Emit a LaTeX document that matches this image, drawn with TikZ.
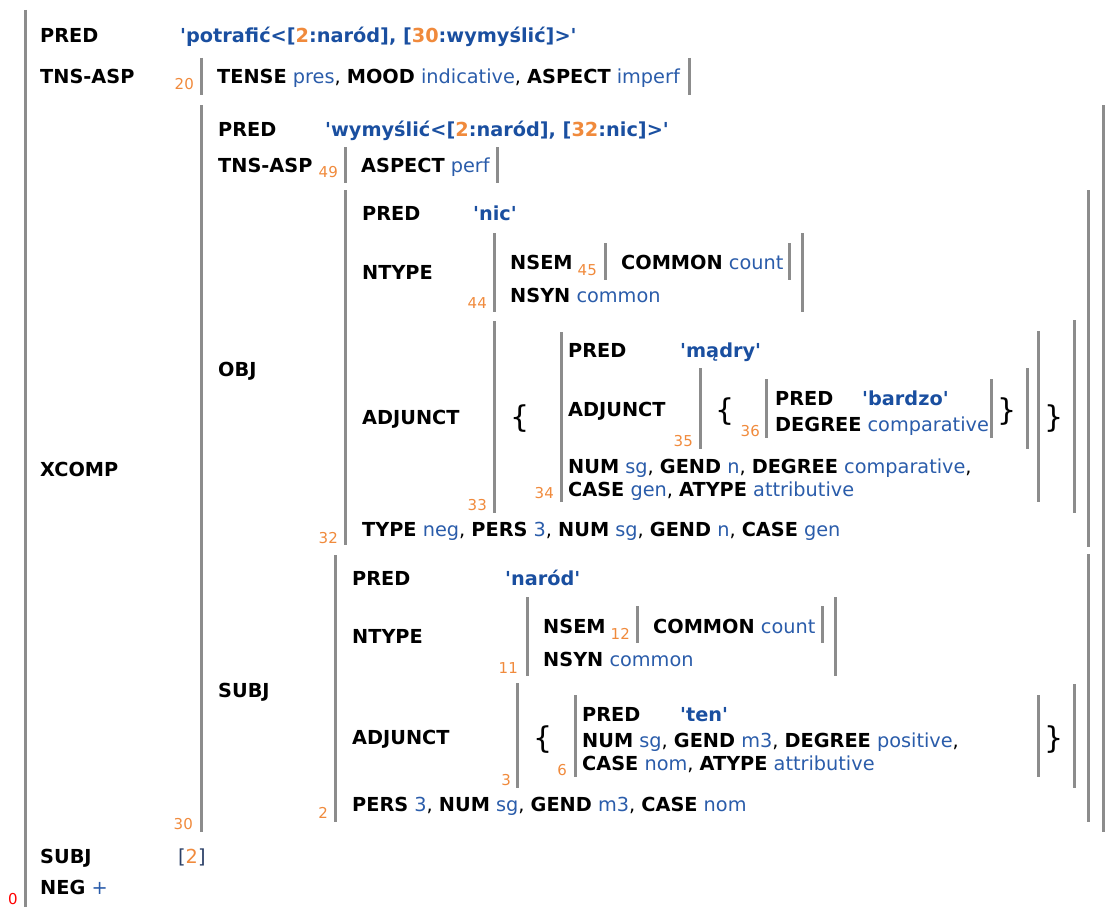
\documentclass[tikz,border=0pt]{standalone}
\usepackage{fontspec}
\setmainfont{DejaVu Sans}
\definecolor{valc}{HTML}{2A5CAA}
\definecolor{predc}{HTML}{1A4FA0}
\definecolor{numc}{HTML}{F08A3C}
\definecolor{barc}{HTML}{8C8C8C}
\definecolor{brkc}{HTML}{2A3F66}
\newcommand\At[1]{\textbf{#1}}
\newcommand\Va[1]{\textcolor{valc}{#1}}
\newcommand\Pv[1]{\textcolor{predc}{\textbf{\textquotesingle#1\textquotesingle}}}
\newcommand\Nm[1]{\textcolor{numc}{#1}}
\tikzset{
  txt/.style={anchor=base west, inner sep=0pt, font=\fontsize{19.3}{22}\selectfont},
  idx/.style={anchor=base east, inner sep=0pt, text=numc, font=\fontsize{15}{16}\selectfont},
  brace/.style={anchor=center, inner sep=0pt, font=\fontsize{30}{32}\selectfont},
  bar/.style={draw=barc, line width=3pt},
}
\begin{document}
\begin{tikzpicture}[x=1pt,y=-1pt]
\useasboundingbox (0,0) rectangle (1113,907);
% ---------- outer f-structure 0
\draw[bar] (25,10) -- (25,907);
\node[idx, text=red, anchor=base] (n0) at (13,904) {0};
\node[txt] (p0) at (40,43) {\At{PRED}};
\node[txt] (p0v) at (180,43) {\Pv{potrafić<[\Nm{2}:naród], [\Nm{30}:wymyślić]>}};
\node[txt] (t0) at (40,84) {\At{TNS-ASP}};
\node[idx] (n20) at (194,89) {20};
\draw[bar] (201,58) -- (201,95);
\node[txt] (t20) at (217,84) {\At{TENSE} \Va{pres}, \At{MOOD} \Va{indicative}, \At{ASPECT} \Va{imperf}};
\draw[bar] (689,58) -- (689,95);
\node[txt] (x0) at (40,476) {\At{XCOMP}};
\node[txt] (s0) at (40,863) {\At{SUBJ}};
\node[txt] (s0v) at (178,863) {\textcolor{brkc}{[}\Nm{2}\textcolor{brkc}{]}};
\node[txt] (neg) at (40,894) {\At{NEG} \Va{+}};
% ---------- XCOMP 30
\draw[bar] (201,105) -- (201,832);
\draw[bar] (1103,105) -- (1103,832);
\node[idx] (n30) at (193,829) {30};
\node[txt] (p30) at (218,136) {\At{PRED}};
\node[txt] (p30v) at (325,136) {\Pv{wymyślić<[\Nm{2}:naród], [\Nm{32}:nic]>}};
\node[txt] (t30) at (218,172) {\At{TNS-ASP}};
\node[idx] (n49) at (338,177) {49};
\draw[bar] (345,147) -- (345,183);
\node[txt] (t49) at (361,172) {\At{ASPECT} \Va{perf}};
\draw[bar] (497,147) -- (497,183);
\node[txt] (o30) at (218,376) {\At{OBJ}};
\node[txt] (s30) at (218,697) {\At{SUBJ}};
% ---------- OBJ 32
\draw[bar] (345,190) -- (345,545);
\draw[bar] (1088,190) -- (1088,547);
\node[idx] (n32) at (338,543) {32};
\node[txt] (p32) at (362,220) {\At{PRED}};
\node[txt] (p32v) at (473,220) {\Pv{nic}};
\node[txt] (nt32) at (362,279) {\At{NTYPE}};
\node[txt] (a32) at (362,424) {\At{ADJUNCT}};
\node[txt] (r32) at (362,536) {\At{TYPE} \Va{neg}, \At{PERS} \Va{3}, \At{NUM} \Va{sg}, \At{GEND} \Va{n}, \At{CASE} \Va{gen}};
% NTYPE 44
\draw[bar] (494,233) -- (494,312);
\draw[bar] (802,233) -- (802,312);
\node[idx] (n44) at (487,308) {44};
\node[txt] (ns44) at (510,269) {\At{NSEM}};
\node[idx] (n45) at (597,275) {45};
\draw[bar] (605,243) -- (605,280);
\node[txt] (c45) at (621,269) {\At{COMMON} \Va{count}};
\draw[bar] (789,243) -- (789,280);
\node[txt] (sy44) at (510,302) {\At{NSYN} \Va{common}};
% ADJUNCT 33
\draw[bar] (494,321) -- (494,513);
\draw[bar] (1074,320) -- (1074,513);
\node[idx] (n33) at (487,510) {33};
\node[brace] (lb33) at (520,419) {\{};
\node[brace] (rb33) at (1054,419) {\}};
% 34
\draw[bar] (561,332) -- (561,502);
\draw[bar] (1038,331) -- (1038,502);
\node[idx] (n34) at (554,498) {34};
\node[txt] (p34) at (568,357) {\At{PRED}};
\node[txt] (p34v) at (680,357) {\Pv{mądry}};
\node[txt] (a34) at (568,416) {\At{ADJUNCT}};
\node[txt] (r34a) at (568,473) {\At{NUM} \Va{sg}, \At{GEND} \Va{n}, \At{DEGREE} \Va{comparative},};
\node[txt] (r34b) at (568,496) {\At{CASE} \Va{gen}, \At{ATYPE} \Va{attributive}};
% 35
\draw[bar] (700,368) -- (700,449);
\draw[bar] (1027,368) -- (1027,449);
\node[idx] (n35) at (693,446) {35};
\node[brace] (lb35) at (725,412) {\{};
\node[brace] (rb35) at (1007,412) {\}};
% 36
\draw[bar] (766,379) -- (766,438);
\draw[bar] (991,379) -- (991,438);
\node[idx] (n36) at (760,436) {36};
\node[txt] (p36) at (775,405) {\At{PRED}};
\node[txt] (p36v) at (862,405) {\Pv{bardzo}};
\node[txt] (d36) at (775,431) {\At{DEGREE} \Va{comparative}};
% ---------- SUBJ 2
\draw[bar] (335,555) -- (335,822);
\draw[bar] (1088,554) -- (1088,822);
\node[idx] (n2) at (328,818) {2};
\node[txt] (p2) at (352,585) {\At{PRED}};
\node[txt] (p2v) at (505,585) {\Pv{naród}};
\node[txt] (nt2) at (352,643) {\At{NTYPE}};
\node[txt] (a2) at (352,744) {\At{ADJUNCT}};
\node[txt] (r2) at (352,811) {\At{PERS} \Va{3}, \At{NUM} \Va{sg}, \At{GEND} \Va{m3}, \At{CASE} \Va{nom}};
% NTYPE 11
\draw[bar] (527,597) -- (527,676);
\draw[bar] (835,597) -- (835,676);
\node[idx] (n11) at (518,673) {11};
\node[txt] (ns11) at (543,633) {\At{NSEM}};
\node[idx] (n12) at (630,639) {12};
\draw[bar] (637,606) -- (637,643);
\node[txt] (c12) at (653,633) {\At{COMMON} \Va{count}};
\draw[bar] (822,606) -- (822,643);
\node[txt] (sy11) at (543,666) {\At{NSYN} \Va{common}};
% ADJUNCT 3
\draw[bar] (517,683) -- (517,788);
\draw[bar] (1074,684) -- (1074,788);
\node[idx] (n3) at (511,785) {3};
\node[brace] (lb3) at (543,740) {\{};
\node[brace] (rb3) at (1054,740) {\}};
% 6
\draw[bar] (575,695) -- (575,777);
\draw[bar] (1038,695) -- (1038,777);
\node[idx] (n6) at (567,775) {6};
\node[txt] (p6) at (582,721) {\At{PRED}};
\node[txt] (p6v) at (680,721) {\Pv{ten}};
\node[txt] (r6a) at (582,747) {\At{NUM} \Va{sg}, \At{GEND} \Va{m3}, \At{DEGREE} \Va{positive},};
\node[txt] (r6b) at (582,770) {\At{CASE} \Va{nom}, \At{ATYPE} \Va{attributive}};
\end{tikzpicture}
\end{document}
